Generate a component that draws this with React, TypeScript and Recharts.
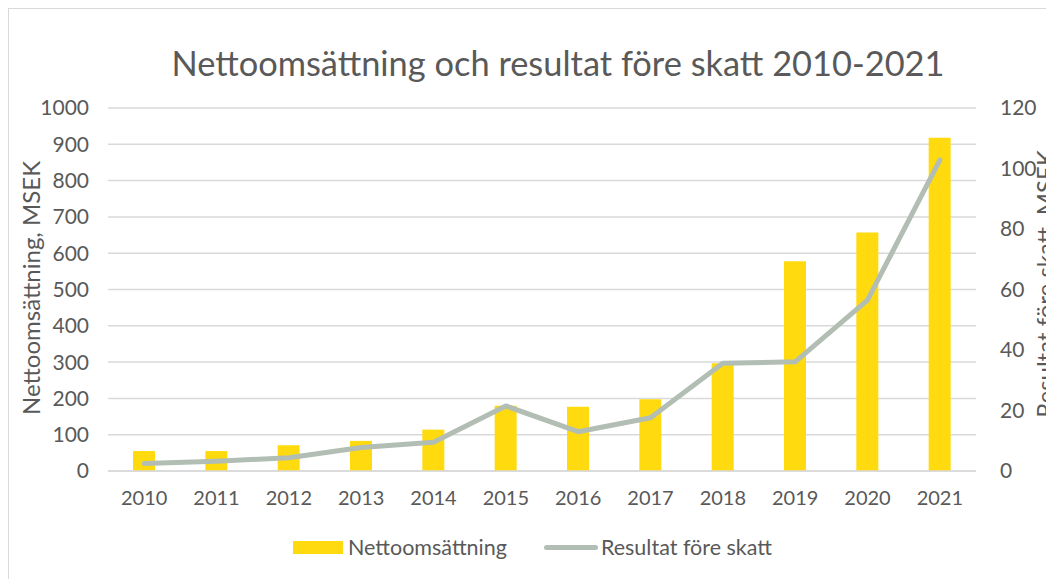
import React from "react";
import {
  ComposedChart,
  Bar,
  Line,
  XAxis,
  YAxis,
  CartesianGrid,
} from "recharts";

const years = ["2010", "2011", "2012", "2013", "2014", "2015", "2016", "2017", "2018", "2019", "2020", "2021"];
const nettoomsattning = [55, 55, 71, 83, 114, 180, 177, 198, 297, 578, 657, 918];
const resultatForeSkatt = [2.5, 3.2, 4.4, 7.8, 9.5, 21.5, 13, 17.6, 35.6, 36.1, 56.5, 102.8];
const leftTicks = [0, 100, 200, 300, 400, 500, 600, 700, 800, 900, 1000];
const rightTicks = [0, 20, 40, 60, 80, 100, 120];

const data = years.map((year, i) => ({
  year,
  netto: nettoomsattning[i],
  resultat: resultatForeSkatt[i],
}));

const FONT = "Lato, 'Open Sans', sans-serif";
const TEXT = "#595959";
const GRID = "#d9d9d9";
const YELLOW = "#FFDA0E";
const SAGE = "#B2BEB3";

export default function App() {
  return (
    <div
      style={{
        position: "relative",
        width: 1046,
        height: 571,
        overflow: "hidden",
        borderLeft: `1px solid ${GRID}`,
        borderTop: `1px solid ${GRID}`,
        boxSizing: "border-box",
        fontFamily: FONT,
        color: TEXT,
        background: "#fff",
      }}
    >
      <div
        style={{
          position: "absolute",
          left: 0,
          width: 1098,
          top: 33,
          textAlign: "center",
          fontSize: 34.4,
          lineHeight: "42px",
        }}
      >
        Nettoomsättning och resultat före skatt 2010-2021
      </div>

      <div
        style={{
          position: "absolute",
          left: 21,
          top: 279,
          transform: "translate(-50%, -50%) rotate(-90deg)",
          whiteSpace: "nowrap",
          fontSize: 24,
        }}
      >
        Nettoomsättning, MSEK
      </div>
      <div
        style={{
          position: "absolute",
          left: 1035,
          top: 275,
          transform: "translate(-50%, -50%) rotate(-90deg)",
          whiteSpace: "nowrap",
          fontSize: 24,
        }}
      >
        Resultat före skatt, MSEK
      </div>

      <ComposedChart
        width={1045}
        height={570}
        data={data}
        margin={{ top: 99, right: 0, left: 10, bottom: 78 }}
      >
        <CartesianGrid yAxisId="left" vertical={false} stroke={GRID} strokeWidth={1.5} />
        <XAxis
          dataKey="year"
          axisLine={{ stroke: GRID, strokeWidth: 1.5 }}
          tickLine={false}
          tickSize={0}
          tickMargin={20}
          height={30}
          tick={{ fill: TEXT, fontSize: 20, fontFamily: FONT }}
        />
        <YAxis
          yAxisId="left"
          orientation="left"
          width={89}
          domain={[0, 1000]}
          ticks={leftTicks}
          axisLine={false}
          tickLine={false}
          tickSize={0}
          tickMargin={19}
          tick={{ fill: TEXT, fontSize: 21, fontFamily: FONT }}
        />
        <YAxis
          yAxisId="right"
          orientation="right"
          width={78}
          domain={[0, 120]}
          ticks={rightTicks}
          axisLine={false}
          tickLine={false}
          tickSize={0}
          tickMargin={24}
          tick={{ fill: TEXT, fontSize: 21, fontFamily: FONT, textAnchor: "start" }}
        />
        <Bar
          yAxisId="left"
          dataKey="netto"
          name="Nettoomsättning"
          fill={YELLOW}
          barSize={22}
          isAnimationActive={false}
        />
        <Line
          yAxisId="right"
          dataKey="resultat"
          name="Resultat före skatt"
          type="linear"
          stroke={SAGE}
          strokeWidth={5}
          strokeLinecap="round"
          strokeLinejoin="round"
          dot={false}
          activeDot={false}
          isAnimationActive={false}
        />
      </ComposedChart>

      <div
        style={{
          position: "absolute",
          top: 525,
          left: 284,
          display: "flex",
          alignItems: "center",
          fontSize: 21.5,
          whiteSpace: "nowrap",
        }}
      >
        <span style={{ display: "inline-block", width: 50, height: 13, background: YELLOW, marginRight: 5 }} />
        <span>Nettoomsättning</span>
        <span
          style={{
            display: "inline-block",
            width: 54,
            height: 5,
            borderRadius: 3,
            background: SAGE,
            marginLeft: 37,
            marginRight: 3,
          }}
        />
        <span>Resultat före skatt</span>
      </div>
    </div>
  );
}
